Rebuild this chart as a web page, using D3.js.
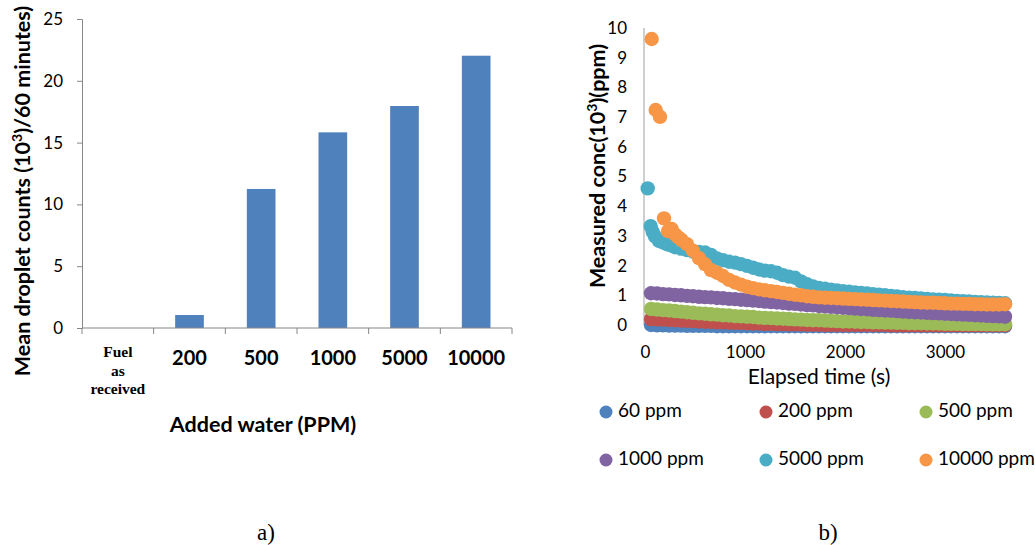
<!DOCTYPE html>
<html>
<head>
<meta charset="utf-8">
<script src="https://cdn.jsdelivr.net/npm/d3@7"></script>
<style>
  body { margin: 0; background: #fff; }
  text { font-family: Lato, "Open Sans", sans-serif; fill: #000; }
</style>
</head>
<body>
<div id="viz"></div>
<script>
// ---- chart a) : bar chart
var categories = ["Fuel as received", "200", "500", "1000", "5000", "10000"];
var dropletCounts = [0, 1.05, 11.25, 15.83, 17.96, 22.03];
var countTicks = [0, 5, 10, 15, 20, 25];

// ---- chart b) : scatter, regular samples every 60 s
var elapsed = [60, 120, 180, 240, 300, 360, 420, 480, 540, 600,
  660, 720, 780, 840, 900, 960, 1020, 1080, 1140, 1200,
  1260, 1320, 1380, 1440, 1500, 1560, 1620, 1680, 1740, 1800,
  1860, 1920, 1980, 2040, 2100, 2160, 2220, 2280, 2340, 2400,
  2460, 2520, 2580, 2640, 2700, 2760, 2820, 2880, 2940, 3000,
  3060, 3120, 3180, 3240, 3300, 3360, 3420, 3480, 3540, 3600];

var ppm60 = [0.00, -0.01, -0.01, -0.02, -0.02, -0.02, -0.03, -0.03, -0.03, -0.03,
  -0.03, -0.04, -0.04, -0.04, -0.04, -0.04, -0.04, -0.04, -0.04, -0.04,
  -0.04, -0.04, -0.04, -0.04, -0.04, -0.04, -0.04, -0.04, -0.04, -0.04,
  -0.04, -0.04, -0.04, -0.04, -0.04, -0.04, -0.04, -0.04, -0.04, -0.04,
  -0.04, -0.04, -0.04, -0.04, -0.04, -0.04, -0.04, -0.04, -0.04, -0.04,
  -0.04, -0.04, -0.04, -0.04, -0.04, -0.04, -0.04, -0.04, -0.04, -0.04];

var ppm200 = [0.20, 0.19, 0.18, 0.17, 0.16, 0.15, 0.14, 0.13, 0.12, 0.11,
  0.10, 0.09, 0.09, 0.08, 0.07, 0.07, 0.06, 0.05, 0.05, 0.04,
  0.04, 0.03, 0.03, 0.02, 0.02, 0.02, 0.01, 0.01, 0.01, 0.00,
  0.00, 0.00, 0.00, 0.00, 0.00, 0.00, 0.00, 0.00, 0.00, 0.00,
  -0.01, -0.01, -0.01, -0.01, -0.01, -0.01, -0.01, -0.01, -0.01, -0.01,
  -0.01, -0.01, -0.01, -0.01, -0.01, -0.01, -0.01, -0.01, -0.01, -0.01];

var ppm500 = [0.54, 0.52, 0.50, 0.49, 0.47, 0.45, 0.43, 0.41, 0.39, 0.38,
  0.36, 0.35, 0.33, 0.32, 0.30, 0.29, 0.28, 0.27, 0.25, 0.24,
  0.23, 0.22, 0.21, 0.20, 0.19, 0.18, 0.17, 0.16, 0.16, 0.15,
  0.14, 0.13, 0.12, 0.12, 0.11, 0.10, 0.10, 0.09, 0.09, 0.08,
  0.08, 0.07, 0.07, 0.06, 0.06, 0.06, 0.05, 0.05, 0.05, 0.04,
  0.04, 0.04, 0.03, 0.03, 0.03, 0.03, 0.02, 0.02, 0.02, 0.02];

var ppm1000 = [1.07, 1.06, 1.04, 1.03, 1.01, 1.00, 0.98, 0.97, 0.95, 0.94,
  0.93, 0.91, 0.90, 0.88, 0.87, 0.85, 0.84, 0.82, 0.81, 0.79,
  0.77, 0.76, 0.74, 0.72, 0.71, 0.69, 0.67, 0.66, 0.64, 0.63,
  0.61, 0.60, 0.58, 0.57, 0.55, 0.54, 0.53, 0.51, 0.50, 0.49,
  0.48, 0.47, 0.45, 0.44, 0.43, 0.42, 0.41, 0.40, 0.39, 0.38,
  0.37, 0.36, 0.35, 0.34, 0.33, 0.32, 0.31, 0.30, 0.29, 0.28];

var ppm5000 = [null, null, null, null, 2.62, 2.57, 2.52, 2.47, 2.46, 2.44,
  2.36, 2.24, 2.18, 2.13, 2.10, 2.05, 1.99, 1.93, 1.87, 1.83,
  1.81, 1.76, 1.68, 1.63, 1.59, 1.47, 1.37, 1.30, 1.25, 1.22,
  1.19, 1.16, 1.14, 1.12, 1.10, 1.08, 1.06, 1.04, 1.02, 1.00,
  0.98, 0.96, 0.94, 0.92, 0.91, 0.89, 0.88, 0.86, 0.85, 0.84,
  0.83, 0.81, 0.80, 0.79, 0.78, 0.77, 0.76, 0.75, 0.74, 0.73];

var ppm10000 = [null, null, null, null, null, null, 2.72, 2.50, 2.25, 2.05,
  1.85, 1.76, 1.65, 1.52, 1.43, 1.36, 1.29, 1.24, 1.20, 1.17,
  1.14, 1.11, 1.08, 1.05, 1.02, 1.00, 0.97, 0.95, 0.93, 0.92,
  0.91, 0.90, 0.89, 0.88, 0.87, 0.86, 0.85, 0.84, 0.83, 0.82,
  0.81, 0.80, 0.79, 0.78, 0.77, 0.76, 0.75, 0.75, 0.74, 0.73,
  0.72, 0.72, 0.71, 0.71, 0.70, 0.70, 0.69, 0.69, 0.69, 0.70];

// early, irregular samples
var early5000Time = [27, 57, 77, 100, 140, 180, 220, 260];
var early5000 = [4.60, 3.33, 3.14, 2.98, 2.83, 2.78, 2.72, 2.68];
var early10000Time = [67, 107, 150, 190, 230, 267, 300, 333, 367];
var early10000 = [9.63, 7.24, 7.01, 3.59, 3.16, 3.23, 3.05, 2.95, 2.86];

var seriesNames = ["60 ppm", "200 ppm", "500 ppm", "1000 ppm", "5000 ppm", "10000 ppm"];
var seriesColors = ["#4f81bd", "#c0504d", "#9bbb59", "#8064a2", "#4bacc6", "#f79646"];
var concTicks = [0, 1, 2, 3, 4, 5, 6, 7, 8, 9, 10];
var timeTicks = [0, 1000, 2000, 3000];

var width = 1035, height = 545;
var svg = d3.select("#viz").append("svg")
  .attr("width", width)
  .attr("height", height);
svg.append("rect").attr("width", width).attr("height", height).attr("fill", "#fff");

// ================= a) =================
var x = d3.scaleBand().domain(categories).range([82, 512]);
var y = d3.scaleLinear().domain([0, 25]).range([328, 19]);
var ga = svg.append("g");

ga.selectAll("rect.bar")
  .data(categories)
  .enter().append("rect")
  .attr("class", "bar")
  .attr("x", function (d) { return x(d) + x.bandwidth() * 0.3; })
  .attr("width", x.bandwidth() * 0.4)
  .attr("y", function (d, i) { return y(dropletCounts[i]); })
  .attr("height", function (d, i) { return y(0) - y(dropletCounts[i]); })
  .attr("fill", "#4f81bd");

var yAxisA = d3.axisLeft(y).tickValues(countTicks).tickSize(5).tickPadding(14);
var gya = ga.append("g").attr("transform", "translate(82,0)").call(yAxisA);
gya.select(".domain").attr("stroke", "#868686");
gya.selectAll(".tick line").attr("stroke", "#868686");
gya.selectAll(".tick text").attr("font-size", 17).attr("font-family", "Lato");

// category axis with boundary ticks
ga.append("line").attr("x1", 82).attr("x2", 512).attr("y1", 328).attr("y2", 328)
  .attr("stroke", "#868686");
var bounds = categories.map(function (d) { return x(d); }).concat([512]);
ga.selectAll("line.btick").data(bounds).enter().append("line")
  .attr("class", "btick")
  .attr("x1", function (d) { return d; }).attr("x2", function (d) { return d; })
  .attr("y1", 328).attr("y2", 334).attr("stroke", "#868686");

ga.selectAll("text.cat")
  .data(categories.slice(1))
  .enter().append("text")
  .attr("class", "cat")
  .attr("x", function (d) { return x(d) + x.bandwidth() / 2; })
  .attr("y", 365)
  .attr("text-anchor", "middle")
  .attr("font-weight", "bold")
  .attr("font-size", 20)
  .text(function (d) { return d; });

var fuelLines = categories[0].split(" ");
ga.selectAll("text.fuel")
  .data(fuelLines)
  .enter().append("text")
  .attr("class", "fuel")
  .attr("x", x(categories[0]) + x.bandwidth() / 2)
  .attr("y", function (d, i) { return 357 + i * 18.5; })
  .attr("text-anchor", "middle")
  .style("font-family", "'Liberation Serif', serif")
  .attr("font-weight", "bold")
  .attr("font-size", 15.5)
  .text(function (d) { return d; });

ga.append("text")
  .attr("x", 263).attr("y", 432)
  .attr("text-anchor", "middle")
  .attr("font-weight", "bold").attr("font-size", 21.5)
  .text("Added water (PPM)");

ga.append("text")
  .attr("transform", "translate(30,191) rotate(-90)")
  .attr("text-anchor", "middle")
  .attr("font-weight", "bold").attr("font-size", 21.5)
  .html("Mean droplet counts (10<tspan baseline-shift='super' font-size='14'>3</tspan>)/60 minutes)");

ga.append("text")
  .attr("x", 266).attr("y", 540)
  .attr("text-anchor", "middle")
  .style("font-family", "'Liberation Serif', serif")
  .attr("font-size", 23)
  .text("a)");

// ================= b) =================
var xb = d3.scaleLinear().domain([0, 4000]).range([645, 1045]);
var yb = d3.scaleLinear().domain([0, 10]).range([325, 28]);
var gb = svg.append("g");

gb.append("line").attr("x1", 644).attr("x2", 644).attr("y1", 28).attr("y2", 325)
  .attr("stroke", "#bfbfbf").attr("stroke-width", 1.5);

var yAxisB = d3.axisLeft(yb).tickValues(concTicks).tickSize(0).tickPadding(17);
var gyb = gb.append("g").attr("transform", "translate(644,0)").call(yAxisB);
gyb.select(".domain").remove();
gyb.selectAll(".tick text").attr("font-size", 17).attr("font-family", "Lato");

var xAxisB = d3.axisBottom(xb).tickValues(timeTicks).tickFormat(d3.format("d"))
  .tickSize(0).tickPadding(21);
var gxb = gb.append("g").attr("transform", "translate(0,325)").call(xAxisB);
gxb.select(".domain").remove();
gxb.selectAll(".tick text").attr("font-size", 17).attr("font-family", "Lato");

var allSeries = [ppm60, ppm200, ppm500, ppm1000, ppm5000, ppm10000];
var r = 7.2;
allSeries.forEach(function (vals, k) {
  var pts = [];
  if (k === 4) early5000.forEach(function (v, i) { pts.push([early5000Time[i], v]); });
  if (k === 5) early10000.forEach(function (v, i) { pts.push([early10000Time[i], v]); });
  vals.forEach(function (v, i) { if (v !== null) pts.push([elapsed[i], v]); });
  gb.append("g").selectAll("circle")
    .data(pts)
    .enter().append("circle")
    .attr("cx", function (d) { return xb(d[0]); })
    .attr("cy", function (d) { return yb(d[1]); })
    .attr("r", r)
    .attr("fill", seriesColors[k]);
});

gb.append("text")
  .attr("x", 819).attr("y", 384)
  .attr("text-anchor", "middle")
  .attr("font-size", 21)
  .text("Elapsed time (s)");

gb.append("text")
  .attr("transform", "translate(605,166) rotate(-90)")
  .attr("text-anchor", "middle")
  .attr("font-weight", "bold").attr("font-size", 21.5)
  .html("Measured conc(10<tspan baseline-shift='super' font-size='14'>3</tspan>)(ppm)");

// legend
var leg = gb.selectAll("g.leg")
  .data(seriesNames)
  .enter().append("g")
  .attr("class", "leg")
  .attr("transform", function (d, i) {
    return "translate(" + (606 + (i % 3) * 160) + "," + (412 + Math.floor(i / 3) * 48) + ")";
  });
leg.append("circle").attr("r", 6.5).attr("fill", function (d, i) { return seriesColors[i]; });
leg.append("text").attr("x", 12).attr("y", 5).attr("font-size", 19)
  .text(function (d) { return d; });

gb.append("text")
  .attr("x", 828).attr("y", 540)
  .attr("text-anchor", "middle")
  .style("font-family", "'Liberation Serif', serif")
  .attr("font-size", 23)
  .text("b)");
</script>
</body>
</html>
